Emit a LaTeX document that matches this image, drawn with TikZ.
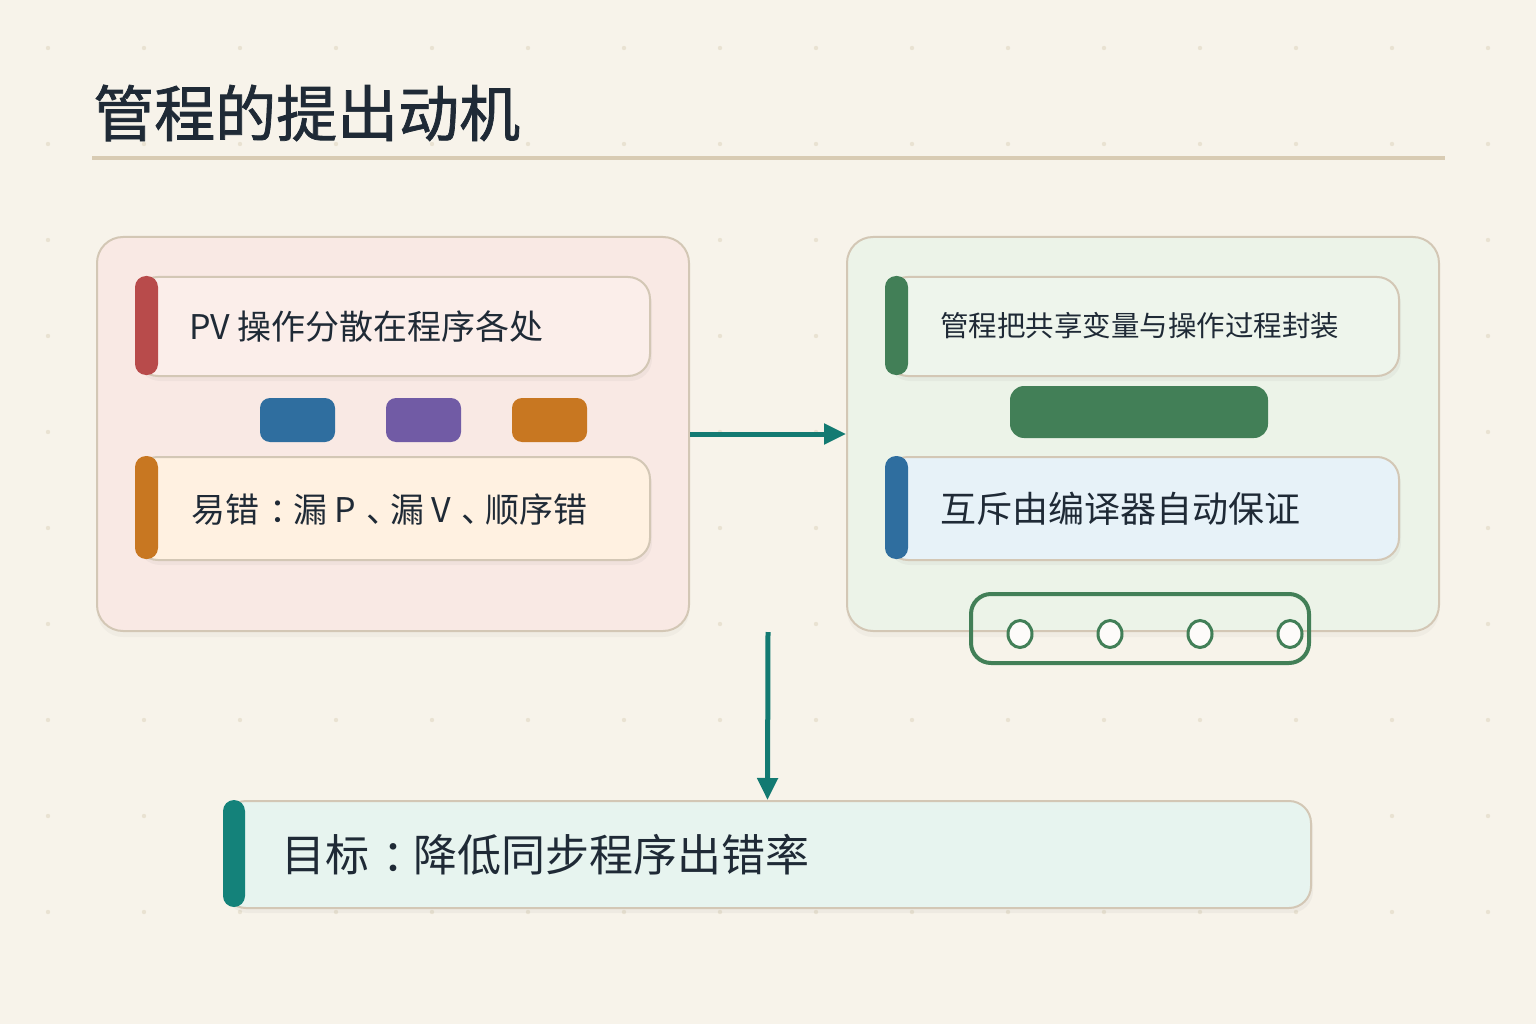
\documentclass[tikz,border=0pt]{standalone}
\usepackage{fontspec}
\setmainfont{Noto Sans CJK SC}
\newfontfamily\headfont{Noto Sans CJK SC}[FakeBold=1.2]
\usetikzlibrary{arrows.meta,shadows,shapes.geometric}

\definecolor{bgcream}{HTML}{F7F3EA}
\definecolor{dotgrey}{HTML}{E9E2D2}
\definecolor{rulesand}{HTML}{D8CBB3}
\definecolor{edgetan}{HTML}{D3C7B5}
\definecolor{inkdark}{HTML}{1F2A36}
\definecolor{panelrose}{HTML}{F9E9E4}
\definecolor{panelmint}{HTML}{ECF3E8}
\definecolor{cardrose}{HTML}{FBEEEA}
\definecolor{cardpeach}{HTML}{FFF1E1}
\definecolor{cardmint}{HTML}{EEF5EC}
\definecolor{cardsky}{HTML}{E7F2F8}
\definecolor{cardteal}{HTML}{E7F4EF}
\definecolor{accred}{HTML}{B84B4B}
\definecolor{accorange}{HTML}{C87721}
\definecolor{accgreen}{HTML}{427F57}
\definecolor{accblue}{HTML}{2F6E9F}
\definecolor{accpurple}{HTML}{715BA5}
\definecolor{accteal}{HTML}{14827A}
\definecolor{arrowteal}{HTML}{137A72}

% centred full-width punctuation
\newcommand{\midpunct}[1]{\hspace{0.3em}#1\hspace{-0.3em}}

\begin{document}
\begin{tikzpicture}[x=1pt, y=-1pt,
                    panel/.style={draw=edgetan, line width=2pt, rounded corners=26pt,
                      minimum width=592pt, minimum height=394pt,
                      drop shadow={opacity=0.06, shadow xshift=0pt, shadow yshift=-6pt}},
                    card/.style={draw=edgetan, line width=2pt, rounded corners=22pt,
                      minimum width=514pt, inner sep=0pt,
                      drop shadow={opacity=0.07, shadow xshift=2pt, shadow yshift=-5pt}},
                    cardtext/.style={anchor=west, inner sep=0pt, text=inkdark},
                    chip/.style={rounded corners=10pt, minimum width=75pt, minimum height=44pt},
                    ring/.style={ellipse, draw=accgreen, line width=3pt, fill=white!70!bgcream,
                      minimum width=24pt, minimum height=27pt, inner sep=0pt},
                    flow/.style={arrowteal, line width=5pt,
                      -{Triangle[length=22pt, width=20pt]}}]
  % background and dot grid
  \useasboundingbox (0,0) rectangle (1536,1024);
  \fill[bgcream] (0,0) rectangle (1536,1024);
  \foreach \x in {48,144,...,1488}
    \foreach \y in {48,144,...,976}
      \fill[dotgrey] (\x,\y) circle (2.2pt);

  % title
  \node[anchor=west, inner sep=0pt, text=inkdark, font=\headfont\fontsize{61}{66}\selectfont]
    (title) at (93,113) {管程的提出动机};
  \draw[rulesand, line width=4pt] (92,158) -- (1445,158);

  % two panels
  \node[panel, fill=panelrose] (before) at (393,434) {};
  \node[panel, fill=panelmint] (after) at (1143,434) {};

  % left panel content
  \node[card, fill=cardrose, minimum height=99pt] (scatter) at (393,326.5) {};
  \fill[accred, rounded corners=11pt] (scatter.north west) rectangle ++(23,99);
  \node[cardtext, font=\fontsize{34}{40}\selectfont] (scattertext) at (189,327) {PV 操作分散在程序各处};

  \node[chip, fill=accblue] (chipa) at (297.5,420) {};
  \node[chip, fill=accpurple] (chipb) at (423.5,420) {};
  \node[chip, fill=accorange] (chipc) at (549.5,420) {};

  \node[card, fill=cardpeach, minimum height=103pt] (errors) at (393,508.5) {};
  \fill[accorange, rounded corners=11pt] (errors.north west) rectangle ++(23,103);
  \node[cardtext, font=\fontsize{34}{40}\selectfont] (errorstext) at (191,510)
    {易错\midpunct{：}漏 P\midpunct{、}漏 V\midpunct{、}顺序错};

  % right panel content
  \node[card, fill=cardmint, minimum width=513pt, minimum height=99pt] (wrap) at (1142.5,326.5) {};
  \fill[accgreen, rounded corners=11pt] (wrap.north west) rectangle ++(23,99);
  \node[cardtext, font=\fontsize{28.5}{34}\selectfont] (wraptext) at (940,326) {管程把共享变量与操作过程封装};

  \node[fill=accgreen, rounded corners=14pt, minimum width=258pt, minimum height=52pt] (bar) at (1139,412) {};

  \node[card, fill=cardsky, minimum width=513pt, minimum height=103pt] (mutex) at (1142.5,508.5) {};
  \fill[accblue, rounded corners=11pt] (mutex.north west) rectangle ++(23,103);
  \node[cardtext, font=\fontsize{36}{42}\selectfont] (mutextext) at (940,509) {互斥由编译器自动保证};

  \node[draw=accgreen, line width=4pt, rounded corners=20pt,
        minimum width=338pt, minimum height=69pt] (queue) at (1140,628.5) {};
  \foreach \i/\x in {1/1020,2/1110,3/1200,4/1290}
    \node[ring] (slot\i) at (\x,634) {};

  % goal
  \node[card, fill=cardteal, minimum width=1087pt, minimum height=107pt] (goal) at (767.5,854.5) {};
  \fill[accteal, rounded corners=11pt] (goal.north west) rectangle ++(22,107);
  \node[cardtext, font=\fontsize{44}{50}\selectfont] (goaltext) at (281,855)
    {目标\midpunct{：}降低同步程序出错率};

  % connectors
  \coordinate (split) at (768,632);
  \draw[flow] (before.east) -- (after.west);
  \draw[flow] (split) -- (goal.north);
\end{tikzpicture}
\end{document}
